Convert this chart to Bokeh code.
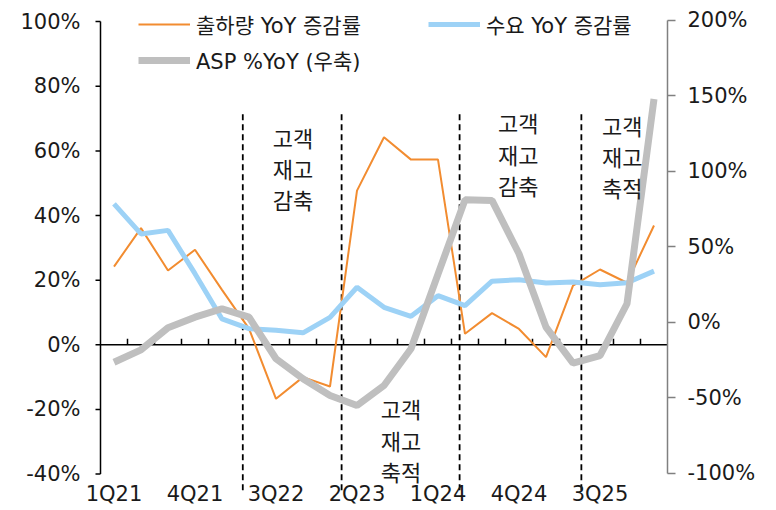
from bokeh.plotting import figure
from bokeh.models import (Range1d, LinearAxis, FixedTicker, PrintfTickFormatter,
                          Legend, LegendItem)
from bokeh.core.properties import value
from bokeh.embed import file_html
from bokeh.resources import INLINE

# ---------------- data ----------------
quarters = ["1Q21", "2Q21", "3Q21", "4Q21", "1Q22", "2Q22", "3Q22", "4Q22",
            "1Q23", "2Q23", "3Q23", "4Q23", "1Q24", "2Q24", "3Q24", "4Q24",
            "1Q25", "2Q25", "3Q25", "4Q25", "1Q26"]
shipments_yoy = [24.2, 36.1, 23.0, 29.4, 17.0, 5.0, -16.7, -10.0, -12.9, 47.7,
                 64.2, 57.3, 57.3, 3.4, 9.8, 4.9, -3.8, 18.3, 23.3, 19.2, 36.9]
demand_yoy = [43.6, 34.3, 35.4, 22.0, 8.0, 5.0, 4.5, 3.7, 8.5, 17.8,
              11.6, 8.8, 15.2, 12.1, 19.7, 20.1, 19.1, 19.4, 18.6, 19.2, 22.8]
asp_yoy = [-26.3, -18.1, -3.5, 3.5, 9.1, 3.5, -24.0, -37.3, -48.3, -55.0,
           -41.7, -17.4, 32.0, 81.2, 80.8, 45.5, -3.1, -26.9, -21.9, 12.4, 148.0]

left_ticks = [-40, -20, 0, 20, 40, 60, 80, 100]
right_ticks = [-100, -50, 0, 50, 100, 150, 200]

tick_idx = list(range(0, len(quarters), 3))
tick_labels = [quarters[i] for i in tick_idx]

# phase separators (position in quarter-index units) and annotations
phase_x = [4.77, 8.43, 12.80, 17.31]
ann_text = ["고객\n재고\n감축", "고객\n재고\n축적", "고객\n재고\n감축", "고객\n재고\n축적"]
ann_x = [5.88, 9.88, 14.22, 18.07]
ann_y = [69.4, -14.7, 73.8, 73.1]

FONT = "DejaVu Sans, Noto Sans CJK KR"
KFONT = "Noto Sans CJK KR"
TXT = "#1a1a1a"
ORANGE = "#F28C30"
BLUE = "#9DD2F6"
GRAY = "#BFBFBF"

n = len(quarters)
xs = list(range(n))
x_lo = -0.5                 # left value axis sits here
tick_len_x = 5 / 27.0       # 5px outward tick in x units

p = figure(width=776, height=510, output_backend="svg", toolbar_location=None,
           x_range=Range1d(x_lo - 16 / 27.0, n - 0.5), y_range=Range1d(-51.27, 106.53),
           x_axis_location=None, min_border_left=84, min_border_right=109,
           min_border_top=0, min_border_bottom=0)
p.outline_line_color = None
p.xgrid.visible = False
p.ygrid.visible = False
p.background_fill_color = "white"

# left axis: labels from bokeh axis, line & ticks drawn at x = -0.5
ya = p.yaxis[0]
ya.ticker = FixedTicker(ticks=left_ticks)
ya.formatter = PrintfTickFormatter(format="%d%%")
ya.axis_line_color = None
ya.major_tick_line_color = None
ya.major_tick_out = 0
ya.major_tick_in = 0
ya.minor_tick_line_color = None
ya.major_label_standoff = 4
ya.major_label_text_font = FONT
ya.major_label_text_font_size = "21px"
ya.major_label_text_color = TXT

p.segment(x0=[x_lo], y0=[left_ticks[0]], x1=[x_lo], y1=[left_ticks[-1]],
          line_color="black", line_width=1.5)
p.segment(x0=[x_lo - tick_len_x] * len(left_ticks), y0=left_ticks,
          x1=[x_lo] * len(left_ticks), y1=left_ticks, line_color="black", line_width=1.5)

# right axis
p.extra_y_ranges = {"asp": Range1d(-124.5, 213.2)}
ra = LinearAxis(y_range_name="asp", ticker=FixedTicker(ticks=right_ticks),
                formatter=PrintfTickFormatter(format="%d%%"),
                bounds=(right_ticks[0], right_ticks[-1]))
ra.axis_line_color = "#808080"
ra.axis_line_width = 1.5
ra.major_tick_line_color = "#808080"
ra.major_tick_line_width = 1.5
ra.major_tick_out = 8
ra.major_tick_in = 0
ra.minor_tick_line_color = None
ra.major_label_standoff = 12
ra.major_label_text_font = FONT
ra.major_label_text_font_size = "21px"
ra.major_label_text_color = TXT
p.add_layout(ra, "right")

# zero line with category tick marks pointing up
p.segment(x0=[x_lo], y0=[0], x1=[n - 0.5], y1=[0], line_color="black", line_width=1.6)
bounds_x = [i + 0.5 for i in range(n - 1)]
p.segment(x0=bounds_x, y0=[0] * len(bounds_x), x1=bounds_x, y1=[1.9] * len(bounds_x),
          line_color="black", line_width=1.5)

# phase separators
p.segment(x0=phase_x, y0=[-45] * len(phase_x), x1=phase_x, y1=[72] * len(phase_x),
          line_color="black", line_width=1.8, line_dash="6 4")

# series
r_ship = p.line(xs, shipments_yoy, line_color=ORANGE, line_width=2)
r_dem = p.line(xs, demand_yoy, line_color=BLUE, line_width=5)
r_asp = p.line(xs, asp_yoy, line_color=GRAY, line_width=7, y_range_name="asp")

# annotations
p.text(x=ann_x, y=ann_y, text=ann_text, text_font=value(KFONT), text_font_size="22px",
       text_color=TXT, text_baseline="top", text_align="left", text_line_height=0.98)

# x labels
p.text(x=tick_idx, y=[-46.3] * len(tick_idx), text=tick_labels, text_font=value(FONT),
       text_font_size="21px", text_color=TXT, text_baseline="middle", text_align="center")

def mk_legend(label, r, loc):
    lg = Legend(items=[LegendItem(label=label, renderers=[r])], location=loc,
                orientation="horizontal", glyph_width=52, glyph_height=20,
                label_standoff=6, padding=0, margin=0, spacing=0,
                background_fill_alpha=0, border_line_alpha=0,
                label_text_font=FONT, label_text_font_size="21px",
                label_text_color=TXT)
    p.add_layout(lg, "center")

mk_legend("출하량 YoY 증감률", r_ship, (54, 471))
mk_legend("수요 YoY 증감률", r_dem, (344, 471))
mk_legend("ASP %YoY (우축)", r_asp, (54, 435))

open("out.html", "w").write(file_html(p, INLINE))
